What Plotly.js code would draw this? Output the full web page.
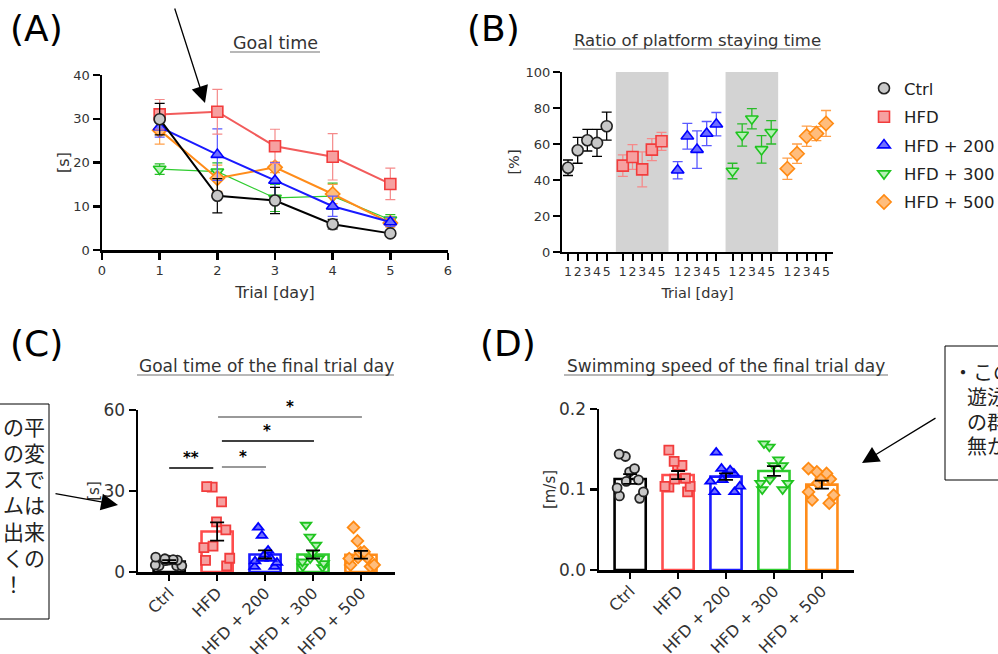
<!DOCTYPE html>
<html><head><meta charset="utf-8">
<script src="https://cdn.plot.ly/plotly-3.0.1.min.js"></script>
<style>html,body{margin:0;padding:0;background:#fff}</style>
</head><body><div id="chart" style="width:998px;height:654px"></div>
<script>
// ---------- DATA ----------
const groups = ['Ctrl', 'HFD', 'HFD + 200', 'HFD + 300', 'HFD + 500'];
const days = [1, 2, 3, 4, 5];

// (A) Goal time, mean and SEM per trial day
const goalCtrl = [29.9, 12.4, 11.3, 5.9, 3.8];
const goalCtrlErr = [3.6, 3.9, 3.0, 1.1, 0.5];
const goalHFD = [31.0, 31.6, 23.7, 21.3, 15.1];
const goalHFDErr = [3.4, 5.1, 3.9, 5.3, 3.6];
const goal200 = [28.1, 21.8, 15.9, 10.0, 6.4];
const goal200Err = [2.3, 5.9, 4.1, 2.3, 1.0];
const goal300 = [18.5, 17.9, 11.9, 12.3, 6.9];
const goal300Err = [1.2, 2.0, 3.1, 3.0, 1.2];
const goal500 = [27.4, 16.4, 18.9, 12.8, 6.2];
const goal500Err = [3.2, 3.0, 1.2, 2.2, 1.0];

// (B) Ratio of platform staying time [%]
const ratioCtrl = [46.8, 56.5, 62.1, 60.6, 69.9];
const ratioCtrlErr = [4.3, 7.2, 6.0, 7.5, 7.8];
const ratioHFD = [48.0, 52.8, 45.9, 56.9, 61.5];
const ratioHFDErr = [6.0, 6.9, 9.7, 6.1, 5.0];
const ratio200 = [45.4, 64.3, 56.9, 65.8, 71.0];
const ratio200Err = [4.8, 7.2, 10.4, 6.7, 6.5];
const ratio300 = [45.0, 65.0, 74.0, 57.0, 66.5];
const ratio300Err = [4.3, 6.2, 5.6, 7.6, 6.5];
const ratio500 = [46.3, 54.6, 64.3, 65.8, 71.4];
const ratio500Err = [5.9, 5.4, 5.6, 3.9, 7.2];

// (C) Goal time of the final trial day [s], individual animals
const finalCtrl = [2.3, 4.6, 5.5, 4.4, 2.3, 2.6, 4.4, 4.9, 4.2, 2.3];
const finalHFD = [31.4, 31.6, 26.0, 18.6, 15.6, 9.6, 9.0, 5.1, 4.3, 2.3];
const final200 = [16.5, 13.5, 8.0, 6.5, 5.0, 5.0, 2.0, 2.0, 3.5, 4.0];
const final300 = [17.4, 13.0, 10.0, 6.9, 5.0, 5.0, 2.0, 1.7, 3.8, 3.2];
const final500 = [16.5, 11.5, 7.2, 7.5, 5.4, 5.4, 5.0, 2.6, 2.6, 2.0];
const finalMean = [3.9, 15.0, 6.5, 6.5, 6.4];
const finalSem = [0.5, 3.4, 1.5, 1.5, 1.45];
// significance brackets: from group, to group, height, label
const sigFrom = [0, 1, 1, 1];
const sigTo = [1, 2, 3, 4];
const sigHeight = [38.5, 38.9, 48.5, 57.4];
const sigLabel = ['**', '*', '*', '*'];

// (D) Swimming speed of the final trial day [m/s]
const speedCtrl = [0.141, 0.144, 0.122, 0.126, 0.110, 0.089, 0.097, 0.102, 0.092, 0.112];
const speedHFD = [0.149, 0.135, 0.130, 0.130, 0.114, 0.113, 0.097, 0.103, 0.104, 0.104];
const speed200 = [0.146, 0.120, 0.124, 0.126, 0.120, 0.112, 0.097, 0.097, 0.104, 0.110];
const speed300 = [0.157, 0.153, 0.137, 0.130, 0.130, 0.112, 0.108, 0.100, 0.100, 0.108];
const speed500 = [0.126, 0.120, 0.122, 0.114, 0.113, 0.108, 0.097, 0.093, 0.087, 0.083];
const speedMean = [0.113, 0.118, 0.116, 0.123, 0.106];
const speedSem = [0.006, 0.005, 0.004, 0.006, 0.005];

// ---------- STYLE ----------
const FONT = 'DejaVu Sans, Verdana, sans-serif';
const JP = 'Noto Sans CJK JP, sans-serif';
const W = 998, H = 654;
const px = v => v / W, py = v => 1 - v / H;
const lineCol = ['#000000', '#f25b5b', '#1a1aff', '#2fcc2f', '#ff8c1a'];
const fillCol = ['#c8c8c8', '#f6a0a0', '#6f6fff', '#b6f0b6', '#ffbd7d'];
const edgeCol = ['#222222', '#f23c3c', '#0000ff', '#1fc41f', '#ff8a12'];
const errCol = ['#000000', '#f58a8a', '#5a5aff', '#2abb2a', '#ffa04a'];
const symbols = ['circle', 'square', 'triangle-up', 'triangle-down', 'diamond'];
const lineW = [2, 2, 2, 1.2, 2];
const groupStep = 5.67;

const goalMeans = [goalCtrl, goalHFD, goal200, goal300, goal500];
const goalErrs = [goalCtrlErr, goalHFDErr, goal200Err, goal300Err, goal500Err];
const ratioMeans = [ratioCtrl, ratioHFD, ratio200, ratio300, ratio500];
const ratioErrs = [ratioCtrlErr, ratioHFDErr, ratio200Err, ratio300Err, ratio500Err];
const finals = [finalCtrl, finalHFD, final200, final300, final500];
const speeds = [speedCtrl, speedHFD, speed200, speed300, speed500];

const data = [];

// (A) traces, drawn so that Ctrl ends on top
[3, 4, 2, 1, 0].forEach(g => {
  data.push({
    type: 'scatter', mode: 'lines+markers', xaxis: 'x', yaxis: 'y',
    x: days, y: goalMeans[g], name: groups[g], showlegend: false, cliponaxis: false,
    line: {color: lineCol[g], width: lineW[g]},
    marker: {symbol: symbols[g], size: 11, color: fillCol[g], line: {color: edgeCol[g], width: 1.6}},
    error_y: {type: 'data', array: goalErrs[g], color: errCol[g], thickness: 1.2, width: 5}
  });
});

// (B) traces (also the legend)
const bTickVals = [], bTickText = [];
groups.forEach((name, g) => {
  const xs = days.map(d => g * groupStep + d);
  xs.forEach((v, i) => { bTickVals.push(v); bTickText.push(String(days[i])); });
  data.push({
    type: 'scatter', mode: 'markers', xaxis: 'x2', yaxis: 'y2',
    x: xs, y: ratioMeans[g], name: groups[g], showlegend: true, legendgroup: 'g' + g, cliponaxis: false,
    marker: {symbol: symbols[g], size: 11, color: fillCol[g], line: {color: edgeCol[g], width: 1.6}},
    error_y: {type: 'data', array: ratioErrs[g], color: errCol[g], thickness: 1.3, width: 5}
  });
});

// (C)/(D) bars + individual points + SEM
function barPanel(xa, ya, values, means, sems) {
  data.push({
    type: 'bar', xaxis: xa, yaxis: ya, x: groups, y: means, width: 0.65, showlegend: false,
    marker: {color: 'rgba(255,255,255,0)', line: {color: lineCol.map((c, i) => i === 1 ? '#ff4d4d' : c), width: 2.6}}
  });
  values.forEach((vals, g) => {
    data.push({
      type: 'box', xaxis: xa, yaxis: ya, x: vals.map(() => groups[g]), y: vals,
      name: groups[g], showlegend: false, boxpoints: 'all', jitter: 0.85, pointpos: 0,
      line: {width: 0}, fillcolor: 'rgba(0,0,0,0)', whiskerwidth: 0,
      marker: {symbol: symbols[g], size: 9, color: fillCol[g], line: {color: edgeCol[g], width: 1.8}}
    });
  });
  data.push({
    type: 'scatter', mode: 'markers', xaxis: xa, yaxis: ya, x: groups, y: means, showlegend: false,
    marker: {size: 1, opacity: 0},
    error_y: {type: 'data', array: sems, color: '#000', thickness: 1.8, width: 7}
  });
}
barPanel('x3', 'y3', finals, finalMean, finalSem);
barPanel('x4', 'y4', speeds, speedMean, speedSem);

// ---------- LAYOUT ----------
function ax(extra) {
  return Object.assign({
    showline: true, linecolor: '#000', linewidth: 2.5, ticks: 'outside', ticklen: 7,
    tickwidth: 2.5, tickcolor: '#000', showgrid: false, zeroline: false, fixedrange: true,
    automargin: false, tickfont: {family: FONT, size: 13, color: '#333'}
  }, extra);
}
const titleFont = s => ({family: FONT, size: s, color: '#333'});

const layout = {
  width: W, height: H, margin: {l: 0, r: 0, t: 0, b: 0, autoexpand: false},
  paper_bgcolor: '#fff', plot_bgcolor: 'rgba(0,0,0,0)',
  font: {family: FONT, color: '#333'},
  showlegend: true, boxgap: 0.1, boxgroupgap: 0, bargap: 0.35,
  legend: {x: px(864), y: py(71), xanchor: 'left', yanchor: 'top', bgcolor: 'rgba(0,0,0,0)',
    font: {family: FONT, size: 16.5, color: '#222'}, itemsizing: 'trace', traceorder: 'grouped', tracegroupgap: 4},
  xaxis: ax({domain: [px(102), px(448)], anchor: 'y', range: [0, 6], dtick: 1,
    title: {text: 'Trial [day]', font: titleFont(16), standoff: 10}}),
  yaxis: ax({domain: [py(250), py(75)], anchor: 'x', range: [0, 40], dtick: 10,
    title: {text: '[s]', font: titleFont(16), standoff: 0}}),
  xaxis2: ax({domain: [px(562), px(833)], anchor: 'y2', range: [0.38, 28.4], linewidth: 2, tickwidth: 2,
    tickmode: 'array', tickvals: bTickVals, ticktext: bTickText, ticklen: 7, tickangle: 0,
    tickfont: {family: FONT, size: 12.5, color: '#333'},
    title: {text: 'Trial [day]', font: titleFont(14.5), standoff: 10}}),
  yaxis2: ax({domain: [py(252), py(72)], anchor: 'x2', range: [0, 100], dtick: 20, linewidth: 2, tickwidth: 2,
    title: {text: '[%]', font: titleFont(14.5), standoff: 2}}),
  xaxis3: ax({domain: [px(138), px(395)], anchor: 'y3', type: 'category', categoryorder: 'array',
    categoryarray: groups, range: [-0.65, 4.71], tickangle: -45, ticklen: 6, ticklabelstandoff: -3,
    tickfont: {family: FONT, size: 16, color: '#333'}}),
  yaxis3: ax({domain: [py(572), py(410)], anchor: 'x3', range: [0, 60], dtick: 30,
    tickfont: {family: FONT, size: 17, color: '#333'},
    title: {text: '[s]', font: titleFont(15), standoff: 0}}),
  xaxis4: ax({domain: [px(599), px(854)], anchor: 'y4', type: 'category', categoryorder: 'array',
    categoryarray: groups, range: [-0.65, 4.67], tickangle: -45, ticklen: 6, ticklabelstandoff: -3,
    tickfont: {family: FONT, size: 16, color: '#333'}}),
  yaxis4: ax({domain: [py(570), py(409)], anchor: 'x4', range: [0, 0.2], dtick: 0.1, tickformat: '.1f',
    tickfont: {family: FONT, size: 17, color: '#333'},
    title: {text: '[m/s]', font: titleFont(15), standoff: 0}}),
  shapes: [], annotations: []
};

// grey bands behind HFD and HFD + 300 in (B)
[1, 3].forEach(g => {
  layout.shapes.push({type: 'rect', xref: 'x2', yref: 'y2', layer: 'below',
    x0: g * groupStep + days[0] - 0.72, x1: g * groupStep + days[4] + 0.72, y0: 0, y1: 100,
    fillcolor: '#d3d3d3', line: {width: 0}});
});

// significance brackets in (C)
sigFrom.forEach((f, i) => {
  const off = i === 0 ? 0 : 0.1;
  layout.shapes.push({type: 'line', xref: 'x3', yref: 'y3', x0: f + (i === 3 ? 0.02 : off), x1: sigTo[i] + (i === 0 ? -0.08 : 0.02),
    y0: sigHeight[i], y1: sigHeight[i], line: {color: (i % 2 === 0) ? '#000' : '#777', width: 1.6}});
  layout.annotations.push({xref: 'x3', yref: 'y3', x: (f + sigTo[i]) / 2 + (i === 0 ? -0.04 : 0.03), y: sigHeight[i],
    yanchor: 'bottom', yshift: -1, text: '<b>' + sigLabel[i] + '</b>', showarrow: false,
    font: {family: FONT, size: 15, color: '#000'}});
});

// titles with underline
function ptitle(text, cx, cy, size, x0, x1, uy) {
  layout.annotations.push({xref: 'paper', yref: 'paper', x: px(cx), y: py(cy), xanchor: 'center', yanchor: 'middle',
    text: text, showarrow: false, font: titleFont(size)});
  layout.shapes.push({type: 'line', xref: 'paper', yref: 'paper', x0: px(x0), x1: px(x1), y0: py(uy), y1: py(uy),
    line: {color: '#a0a0a0', width: 1.5}});
}
ptitle('Goal time', 275, 43, 17.5, 230, 320, 52);
ptitle('Ratio of platform staying time', 697, 41, 16.5, 573, 821, 49);
ptitle('Goal time of the final trial day', 266, 366, 17, 137, 394, 375);
ptitle('Swimming speed of the final trial day', 726, 366, 17, 564, 888, 375);

// panel letters
[['(A)', 8, 29], ['(B)', 465, 29], ['(C)', 8, 343], ['(D)', 478, 343]].forEach(p => {
  layout.annotations.push({xref: 'paper', yref: 'paper', x: px(p[1]), y: py(p[2]), xanchor: 'left', yanchor: 'middle',
    text: p[0], showarrow: false, font: {family: FONT, size: 36, color: '#000'}});
});

// comment boxes (partly outside the figure)
layout.shapes.push({type: 'rect', xref: 'paper', yref: 'paper', x0: px(-10), x1: px(49), y0: py(619), y1: py(404),
  line: {color: '#000', width: 1}, fillcolor: 'rgba(0,0,0,0)'});
layout.shapes.push({type: 'rect', xref: 'paper', yref: 'paper', x0: px(945), x1: px(1010), y0: py(480), y1: py(346),
  line: {color: '#000', width: 1}, fillcolor: 'rgba(0,0,0,0)'});
const leftLines = ['の平', 'の変', 'スで', 'ムは', '出来', 'くの', '！'];
leftLines.forEach((t, i) => {
  layout.annotations.push({xref: 'paper', yref: 'paper', x: px(1), y: py(425 + i * 26.3), xanchor: 'left', yanchor: 'middle',
    height: 25, text: t, showarrow: false, font: {family: JP, size: 21, color: '#222'}});
});
const rightLines = ['・この', '遊泳', 'の群', '無か'];
rightLines.forEach((t, i) => {
  layout.annotations.push({xref: 'paper', yref: 'paper', x: px(i === 0 ? 951 : 965), y: py(371 + i * 25), xanchor: 'left', yanchor: 'middle',
    height: 23, text: t, showarrow: false, font: {family: JP, size: 20, color: '#222'}});
});

// arrows
[[205, 103, -33, -112], [118, 505, -66, -12], [862, 463, 77, -47]].forEach(a => {
  layout.annotations.push({xref: 'paper', yref: 'paper', x: px(a[0]), y: py(a[1]), ax: a[2], ay: a[3],
    text: ' ', showarrow: true, arrowhead: 2, arrowsize: 2.6, arrowwidth: 1.3, arrowcolor: '#000'});
});

Plotly.newPlot('chart', data, layout, {displayModeBar: false, staticPlot: true});
</script>
</body></html>
